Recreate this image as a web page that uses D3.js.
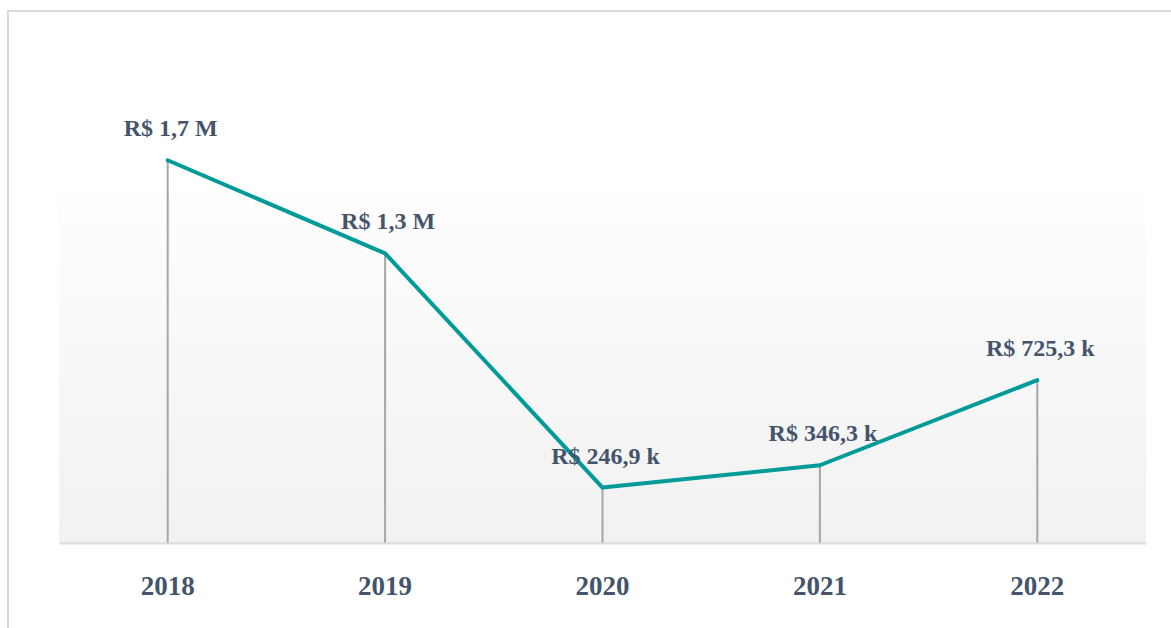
<!DOCTYPE html>
<html>
<head>
<meta charset="utf-8">
<script src="https://cdn.jsdelivr.net/npm/d3@7"></script>
<style>
  body { margin: 0; background: #fff; }
  svg { display: block; }
</style>
</head>
<body>
<svg id="chart"></svg>
<script>
const years = ["2018", "2019", "2020", "2021", "2022"];
const values = [1705000, 1290000, 246900, 346300, 725300];
const labels = ["R$ 1,7 M", "R$ 1,3 M", "R$ 246,9 k", "R$ 346,3 k", "R$ 725,3 k"];

const width = 1171;
const height = 628;
const plot = { left: 59, right: 1146, top: 190, bottom: 543 };

const svg = d3.select("#chart")
    .attr("width", width)
    .attr("height", height);

// outer frame (only top and left show inside the window)
svg.append("rect")
    .attr("x", 8)
    .attr("y", 11)
    .attr("width", width + 20)
    .attr("height", height + 20)
    .attr("fill", "none")
    .attr("stroke", "#d9d9d9")
    .attr("stroke-width", 2);

const grad = svg.append("defs").append("linearGradient")
    .attr("id", "bg")
    .attr("x1", 0).attr("y1", 0)
    .attr("x2", 0).attr("y2", 1);
grad.append("stop").attr("offset", "0%").attr("stop-color", "#fefefe");
grad.append("stop").attr("offset", "100%").attr("stop-color", "#f1f1f1");

svg.append("rect")
    .attr("x", plot.left)
    .attr("y", plot.top)
    .attr("width", plot.right - plot.left)
    .attr("height", plot.bottom - plot.top)
    .attr("fill", "url(#bg)");

const x = d3.scaleBand()
    .domain(years)
    .range([plot.left, plot.right]);

const y = d3.scaleLinear()
    .domain([0, 1600000])
    .range([plot.bottom, plot.bottom - 1.6 * 224.5]);

const data = years.map((yr, i) => ({ year: yr, value: values[i], label: labels[i] }));
const cx = d => x(d.year) + x.bandwidth() / 2;

// drop lines
svg.selectAll(".drop")
    .data(data)
    .enter()
    .append("line")
    .attr("x1", cx)
    .attr("x2", cx)
    .attr("y1", d => y(d.value))
    .attr("y2", plot.bottom)
    .attr("stroke", "#a6a6a6")
    .attr("stroke-width", 2);

// x axis
const xAxis = svg.append("g")
    .attr("transform", `translate(0,${plot.bottom})`)
    .call(d3.axisBottom(x).tickSize(0).tickPadding(33));
xAxis.select(".domain")
    .attr("stroke", "#d9d9d9")
    .attr("stroke-width", 2);
xAxis.selectAll("text")
    .attr("fill", "#44546a")
    .style("font-family", "'Liberation Serif', 'Times New Roman', serif")
    .style("font-weight", "bold")
    .style("font-size", "27px");

const line = d3.line()
    .x(cx)
    .y(d => y(d.value));

svg.append("path")
    .datum(data)
    .attr("d", line)
    .attr("fill", "none")
    .attr("stroke", "#009b98")
    .attr("stroke-width", 4)
    .attr("stroke-linejoin", "round")
    .attr("stroke-linecap", "round");

svg.selectAll(".label")
    .data(data)
    .enter()
    .append("text")
    .text(d => d.label)
    .attr("x", d => cx(d) + 3)
    .attr("y", d => y(d.value) - 24)
    .style("text-anchor", "middle")
    .style("font-family", "'Liberation Serif', 'Times New Roman', serif")
    .style("font-weight", "bold")
    .style("font-size", "24px")
    .attr("fill", "#44546a");
</script>
</body>
</html>
